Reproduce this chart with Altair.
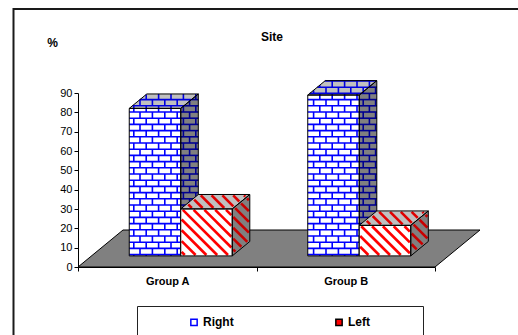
import math
import altair as alt
import pandas as pd

# ---------------- data ----------------
groups = ["Group A", "Group B"]
series = ["Right", "Left"]
right_values = [76.3, 83.2]
left_values = [24.3, 15.8]
y_ticks = [0, 10, 20, 30, 40, 50, 60, 70, 80, 90]
y_title = "%"
chart_title = "Site"

values = {"Right": right_values, "Left": left_values}

# ---------------- layout / style ----------------
PLOT_W, PLOT_H = 357, 174
PAD_L, PAD_T = 78, 93
Y_MAX = y_ticks[-1]
N = len(groups)
PX_X = PLOT_W / N
PX_Y = PLOT_H / Y_MAX

FLOOR_D = (45.0, 37.0)
FRONT_F = 0.30
DEPTH_F = 0.39
BAR_W = 51.5
FONT = "Liberation Sans"

style = {
    "Right": {"kind": "brick",
              "front": ("white", "#0000ff"),
              "top": ("#c0c0c0", "#0000e0"),
              "side": ("#808080", "#000090")},
    "Left": {"kind": "stripe",
             "front": ("white", "#ff0000"),
             "top": ("#c0c0c0", "#e00000"),
             "side": ("#808080", "#c80000")},
}


def ux(px):
    return px / PX_X


def uy(py):
    return py / PX_Y


def clip_segment(p0, p1, poly):
    t0, t1 = 0.0, 1.0
    dx, dy = p1[0] - p0[0], p1[1] - p0[1]
    n = len(poly)
    area = sum(poly[i][0] * poly[(i + 1) % n][1] - poly[(i + 1) % n][0] * poly[i][1] for i in range(n))
    sign = 1 if area > 0 else -1
    for i in range(n):
        a, b = poly[i], poly[(i + 1) % n]
        ex, ey = b[0] - a[0], b[1] - a[1]
        nx, ny = -ey * sign, ex * sign
        num = nx * (p0[0] - a[0]) + ny * (p0[1] - a[1])
        den = nx * dx + ny * dy
        if abs(den) < 1e-12:
            if num < 0:
                return None
            continue
        t = -num / den
        if den > 0:
            t0 = max(t0, t)
        else:
            t1 = min(t1, t)
        if t0 >= t1:
            return None
    return (p0[0] + t0 * dx, p0[1] + t0 * dy), (p0[0] + t1 * dx, p0[1] + t1 * dy)


def shorten(seg, d):
    (ax, ay), (bx_, by_) = seg
    L = math.hypot(bx_ - ax, by_ - ay)
    if L <= 2 * d + 0.3:
        return None
    ux_, uy_ = (bx_ - ax) / L, (by_ - ay) / L
    return (ax + ux_ * d, ay + uy_ * d), (bx_ - ux_ * d, by_ - uy_ * d)


def brick_lines(poly, h=6.2, w=12.4):
    xs = [p[0] for p in poly]
    ys = [p[1] for p in poly]
    segs = []
    for k in range(int(math.floor(min(ys) / h)) - 1, int(math.ceil(max(ys) / h)) + 1):
        y = k * h
        s = clip_segment((min(xs) - 1, y), (max(xs) + 1, y), poly)
        if s:
            segs.append(s)
        off = (k % 2) * w / 2
        for m in range(int(math.floor((min(xs) - off) / w)) - 1, int(math.ceil((max(xs) - off) / w)) + 1):
            x = off + m * w
            s = clip_segment((x, y), (x, y + h), poly)
            if s:
                segs.append(s)
    return [s for s in segs if math.hypot(s[1][0] - s[0][0], s[1][1] - s[0][1]) > 0.4]


def stripe_lines(poly, P=10.8):
    xs = [p[0] for p in poly]
    cs = [p[0] + p[1] for p in poly]
    segs = []
    for m in range(int(math.floor(min(cs) / P)) - 1, int(math.ceil(max(cs) / P)) + 1):
        c = m * P
        xa, xb = min(xs) - 300, max(xs) + 300
        s = clip_segment((xa, c - xa), (xb, c - xb), poly)
        if s:
            s = shorten(s, 1.3)
            if s:
                segs.append(s)
    return segs


# ---------------- geometry from data ----------------
fx, fy = FLOOR_D[0] * FRONT_F, FLOOR_D[1] * FRONT_F
bx, by = FLOOR_D[0] * DEPTH_F, FLOOR_D[1] * DEPTH_F

front_rows = {s: [] for s in series}
top_rows = {s: [] for s in series}
side_rows = {s: [] for s in series}
rule_rows = {s: [] for s in series}

fid = 0
for gi, g in enumerate(groups):
    cx = (gi + 0.5) * PX_X
    for si, s in enumerate(series):
        v = values[s][gi]
        x0 = cx - BAR_W * len(series) / 2 + si * BAR_W + fx
        x1 = x0 + BAR_W
        yb = fy
        yt = fy + v * PX_Y
        polys = {
            "front": [(x0, yb), (x1, yb), (x1, yt), (x0, yt)],
            "top": [(x0, yt), (x1, yt), (x1 + bx, yt + by), (x0 + bx, yt + by)],
            "side": [(x1, yb), (x1 + bx, yb + by), (x1 + bx, yt + by), (x1, yt)],
        }
        front_rows[s].append({"x": ux(x0), "x2": ux(x1), "y": uy(yb), "y2": uy(yt), "g": g})
        top_rows[s].append({"id": fid, "y": uy(yt), "x": ux(x0), "x2": ux(x1)})
        top_rows[s].append({"id": fid, "y": uy(yt + by), "x": ux(x0 + bx), "x2": ux(x1 + bx)})
        side_rows[s].append({"id": fid, "x": ux(x1), "y": uy(yb), "y2": uy(yt)})
        side_rows[s].append({"id": fid, "x": ux(x1 + bx), "y": uy(yb + by), "y2": uy(yt + by)})
        fid += 1
        st = style[s]
        for face, poly in polys.items():
            col = st[face][1]
            if st["kind"] == "brick":
                segs, sw = brick_lines(poly), 1.6
            else:
                segs, sw = stripe_lines(poly), 2.6
            for (a, b) in segs:
                rule_rows[s].append({"x": ux(a[0]), "x2": ux(b[0]), "y": uy(a[1]), "y2": uy(b[1]),
                                     "col": col, "sw": sw})

floor_rows = [
    {"id": 0, "y": 0.0, "x": 0.0, "x2": ux(PLOT_W)},
    {"id": 0, "y": uy(FLOOR_D[1]), "x": ux(FLOOR_D[0]), "x2": ux(PLOT_W + FLOOR_D[0])},
]

# ---------------- scales & axes ----------------
x_scale = alt.Scale(domain=[0, N], nice=False, zero=False)
y_scale = alt.Scale(domain=[0, Y_MAX], nice=False, zero=False)

label_expr = " : ".join(
    f"datum.value == {gi + 0.5} ? '{g}'" for gi, g in enumerate(groups)
) + " : ''"

x_axis = alt.Axis(
    values=[i * 0.5 for i in range(2 * N + 1)],
    labelExpr=label_expr,
    tickOpacity={"condition": {"test": "datum.value % 1 != 0", "value": 0}, "value": 1},
    tickSize=4, tickColor="black", domainColor="black", domainWidth=1,
    labelFont=FONT, labelFontSize=11, labelFontWeight="bold", labelColor="black",
    labelPadding=4, labelOverlap=False, labelFlush=False, grid=False, title=None, zindex=2,
)
y_axis = alt.Axis(
    values=y_ticks, tickSize=4, tickColor="black", domainColor="black", domainWidth=1,
    labelFont=FONT, labelFontSize=11, labelColor="black", labelPadding=2,
    grid=False, title=y_title, titleAngle=0, titleFont=FONT, titleFontSize=12,
    titleFontWeight="bold", titleColor="black", titleX=-26, titleY=-51,
    titleAlign="center", titleBaseline="middle", zindex=2,
)


def X(f):
    return alt.X(f, type="quantitative", scale=x_scale, axis=x_axis, stack=None)


def Y(f):
    return alt.Y(f, type="quantitative", scale=y_scale, axis=y_axis, stack=None)


layers = []

# outer frame and legend box (decoration)
layers.append(alt.Chart(pd.DataFrame({"a": [0]})).mark_rect(
    fill="white", fillOpacity=0, stroke="#1a1a1a", strokeWidth=2).encode(
    x=alt.value(13.5 - PAD_L), x2=alt.value(700), y=alt.value(9 - PAD_T), y2=alt.value(500)))
layers.append(alt.Chart(pd.DataFrame({"a": [0]})).mark_rect(
    fill="white", fillOpacity=0, stroke="#222222", strokeWidth=1).encode(
    x=alt.value(137.5 - PAD_L), x2=alt.value(423.5 - PAD_L), y=alt.value(306.5 - PAD_T), y2=alt.value(500)))

# floor
layers.append(alt.Chart(pd.DataFrame(floor_rows)).mark_area(
    orient="horizontal", fill="#808080", stroke="black", strokeWidth=1).encode(
    y=Y("y"), x=X("x"), x2=alt.X2("x2"), detail="id:N"))

for s in series:
    st = style[s]
    fdf = pd.DataFrame(front_rows[s])
    tdf = pd.DataFrame(top_rows[s])
    sdf = pd.DataFrame(side_rows[s])
    rdf = pd.DataFrame(rule_rows[s])
    layers.append(alt.Chart(fdf).mark_rect(fill=st["front"][0]).encode(
        x=X("x"), x2=alt.X2("x2"), y=Y("y"), y2=alt.Y2("y2")))
    layers.append(alt.Chart(tdf).mark_area(orient="horizontal", fill=st["top"][0]).encode(
        y=Y("y"), x=X("x"), x2=alt.X2("x2"), detail="id:N"))
    layers.append(alt.Chart(sdf).mark_area(orient="vertical", fill=st["side"][0]).encode(
        x=X("x"), y=Y("y"), y2=alt.Y2("y2"), detail="id:N"))
    layers.append(alt.Chart(rdf).mark_rule().encode(
        x=X("x"), x2=alt.X2("x2"), y=Y("y"), y2=alt.Y2("y2"),
        color=alt.Color("col:N", scale=None),
        strokeWidth=alt.StrokeWidth("sw:Q", scale=None)))
    layers.append(alt.Chart(fdf).mark_rect(fill="white", fillOpacity=0, stroke="black", strokeWidth=1).encode(
        x=X("x"), x2=alt.X2("x2"), y=Y("y"), y2=alt.Y2("y2")))
    layers.append(alt.Chart(tdf).mark_area(orient="horizontal", fill="white", fillOpacity=0,
                                           stroke="black", strokeWidth=1).encode(
        y=Y("y"), x=X("x"), x2=alt.X2("x2"), detail="id:N"))
    layers.append(alt.Chart(sdf).mark_area(orient="vertical", fill="white", fillOpacity=0,
                                           stroke="black", strokeWidth=1).encode(
        x=X("x"), y=Y("y"), y2=alt.Y2("y2"), detail="id:N"))

# legend (via invisible points)
leg = alt.Legend(orient="none", legendX=110, legendY=223, direction="horizontal", title=None,
                 symbolType="square", symbolSize=40, symbolStrokeWidth=1.5, symbolOpacity=1,
                 labelFont=FONT, labelFontSize=12, labelFontWeight="bold", labelColor="black",
                 labelOffset=3, columnPadding=98, padding=0)
leg_df = pd.DataFrame({"s": series, "x": [0.0] * len(series), "y": [0.0] * len(series)})
layers.append(alt.Chart(leg_df).mark_point(shape="square", filled=True, size=0, opacity=0).encode(
    x=X("x"), y=Y("y"),
    fill=alt.Fill("s:N", scale=alt.Scale(domain=series, range=["white", "#ff0000"]), legend=leg, sort=series),
    stroke=alt.Stroke("s:N", scale=alt.Scale(domain=series, range=["#0000ff", "black"]), legend=leg, sort=series),
))

# chart title
layers.append(alt.Chart(pd.DataFrame({"t": [chart_title]})).mark_text(
    font=FONT, fontSize=12, fontWeight="bold", color="black", align="center", baseline="middle").encode(
    text="t:N", x=alt.value(272 - PAD_L), y=alt.value(37 - PAD_T)))

chart = alt.layer(*layers).properties(
    width=PLOT_W, height=PLOT_H,
    autosize=alt.AutoSizeParams(type="none"),
    padding={"left": PAD_L, "top": PAD_T, "right": 518 - PAD_L - PLOT_W, "bottom": 335 - PAD_T - PLOT_H},
    background="white",
).configure_view(stroke=None)

chart.save("out.html", embed_options={"renderer": "svg", "actions": False})
